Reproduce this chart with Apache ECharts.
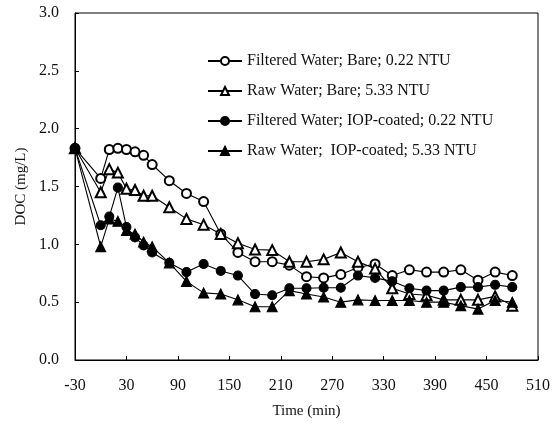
<html>
<head>
    <meta http-equiv="content-type" content="text/html; charset=utf-8">
    <title>DOC vs time</title>
    <script src="https://cdn.jsdelivr.net/npm/echarts@6/dist/echarts.min.js"></script>
    <style>
        html, body { margin: 0; padding: 0; background: #fff; }
    </style>
</head>

<body>
    <div id='echart' style="width:553px; height:427px;"></div>
    <script type="text/javascript">
        // sampling times (min)
        var times = [-30, 0, 10, 20, 30, 40, 50, 60, 80, 100, 120, 140, 160, 180, 200, 220,
            240, 260, 280, 300, 320, 340, 360, 380, 400, 420, 440, 460, 480];
        var xTicks = [-30, 30, 90, 150, 210, 270, 330, 390, 450, 510];

        // DOC (mg/L)
        var filteredBare = [1.83, 1.57, 1.82, 1.83, 1.82, 1.80, 1.77, 1.69, 1.55, 1.44, 1.37, 1.09, 0.93, 0.85, 0.85,
            0.82, 0.72, 0.71, 0.74, 0.80, 0.83, 0.73, 0.78, 0.76, 0.76, 0.78, 0.69, 0.76, 0.73];
        var rawBare = [1.83, 1.45, 1.65, 1.62, 1.48, 1.47, 1.42, 1.42, 1.32, 1.22, 1.17, 1.09, 1.01, 0.955, 0.95,
            0.85, 0.85, 0.87, 0.93, 0.85, 0.79, 0.62, 0.57, 0.56, 0.52, 0.52, 0.52, 0.55, 0.47];
        var filteredIOP = [1.83, 1.165, 1.24, 1.49, 1.15, 1.06, 0.99, 0.93, 0.84, 0.76, 0.83, 0.77, 0.73, 0.57, 0.56,
            0.62, 0.62, 0.625, 0.625, 0.73, 0.71, 0.68, 0.62, 0.60, 0.60, 0.63, 0.63, 0.65, 0.63];
        var rawIOP = [1.83, 0.98, 1.22, 1.20, 1.12, 1.09, 1.02, 0.98, 0.84, 0.68, 0.58, 0.57, 0.52, 0.46, 0.46,
            0.60, 0.57, 0.545, 0.50, 0.52, 0.515, 0.515, 0.515, 0.50, 0.50, 0.47, 0.44, 0.515, 0.50];

        var names = ['Filtered Water; Bare; 0.22 NTU', 'Raw Water; Bare; 5.33 NTU',
            'Filtered Water; IOP-coated; 0.22 NTU', 'Raw Water;  IOP-coated; 5.33 NTU'];
        var symbols = ['emptyCircle', 'emptyTriangle', 'circle', 'triangle'];
        var values = [filteredBare, rawBare, filteredIOP, rawIOP];

        // x axis is shifted by +30 so ticks start at a multiple of the interval
        var shift = 30;
        var font = 'Liberation Serif';

        var series = values.map(function(vals, i) {
            return {
                name: names[i],
                type: 'line',
                symbol: symbols[i],
                symbolSize: symbols[i].indexOf('riangle') >= 0 ? 10 : 9,
                showAllSymbol: true,
                lineStyle: { color: '#000', width: 1.1 },
                itemStyle: { color: '#000', borderColor: '#000', borderWidth: 1.1 },
                emphasis: { disabled: true },
                data: times.map(function(t, j) { return [t + shift, vals[j]]; })
            };
        });

        var chart = echarts.init(document.getElementById("echart"));
        chart.setOption({
            backgroundColor: '#fff',
            animation: false,
            textStyle: { fontFamily: font, color: '#111' },
            grid: { left: 75, right: 14, top: 13, bottom: 67, show: true, borderColor: '#000', borderWidth: 1 },
            legend: {
                orient: 'vertical',
                left: 202,
                top: 48,
                itemWidth: 34,
                itemHeight: 10,
                itemGap: 14,
                data: names,
                textStyle: { fontFamily: font, fontSize: 16, color: '#111' }
            },
            xAxis: {
                type: 'value',
                min: 0,
                max: 540,
                interval: 60,
                name: 'Time (min)',
                nameLocation: 'middle',
                nameGap: 44,
                nameTextStyle: { fontFamily: font, fontSize: 15, color: '#111' },
                axisLine: { lineStyle: { color: '#000', width: 1 } },
                axisTick: { inside: true, length: 4, lineStyle: { color: '#000' } },
                splitLine: { show: false },
                axisLabel: {
                    margin: 18,
                    fontSize: 16,
                    color: '#111',
                    formatter: function(v) { return String(v - shift); }
                }
            },
            yAxis: {
                type: 'value',
                min: 0,
                max: 3,
                interval: 0.5,
                name: 'DOC (mg/L)',
                nameLocation: 'middle',
                nameGap: 45,
                nameTextStyle: { fontFamily: font, fontSize: 15, color: '#111' },
                axisLine: { show: true, lineStyle: { color: '#000', width: 1 } },
                axisTick: { show: true, inside: true, length: 4, lineStyle: { color: '#000' } },
                splitLine: { show: false },
                axisLabel: {
                    margin: 16,
                    fontSize: 16,
                    color: '#111',
                    formatter: function(v) { return v.toFixed(1); }
                }
            },
            series: series
        });
    </script>
</body>
</html>
